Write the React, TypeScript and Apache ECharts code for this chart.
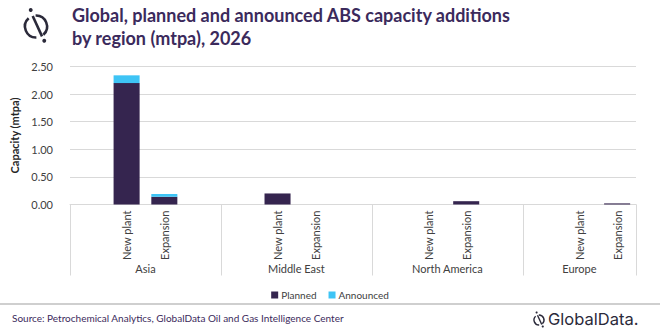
import React, { useEffect, useRef } from "react";
import * as echarts from "echarts";

const categories = ["", "New plant", "Expansion", "", "", "New plant", "Expansion", "", "", "New plant", "Expansion", "", "", "New plant", "Expansion"];
const planned = ["-", 2.2, 0.14, "-", "-", 0.2, "-", "-", "-", "-", 0.06, "-", "-", "-", 0.02];
const announced = ["-", 0.14, 0.05, "-", "-", "-", "-", "-", "-", "-", "-", "-", "-", "-", "-"];
// region labels on a half-slot scale (31 points)
const regionLabels = [
  "", "", "", "", "Asia", "", "", "", "",
  "", "", "", "Middle East", "", "", "", "",
  "", "", "", "North America", "", "", "", "",
  "", "", "Europe", "", "", "",
];
const regionBoundaries = [0, 8, 16, 24, 30];
const yTicks = { min: 0, max: 2.5, interval: 0.5 };

const PURPLE = "#35254f";
const BLUE = "#3ec4f5";
const TITLE = "#3b2a5c";
const FONT = "Lato, 'Open Sans', sans-serif";

export default function App() {
  const ref = useRef<HTMLDivElement>(null);
  useEffect(() => {
    const chart = echarts.init(ref.current!, null, { renderer: "svg" });
    const logo = (cx: number, cy: number, r: number, lw: number, color: string) => [
      { type: "arc", shape: { cx, cy, r, startAngle: (-92 * Math.PI) / 180, endAngle: (48 * Math.PI) / 180 }, style: { stroke: color, lineWidth: lw, fill: "none" } },
      { type: "arc", shape: { cx, cy, r, startAngle: (88 * Math.PI) / 180, endAngle: (228 * Math.PI) / 180 }, style: { stroke: color, lineWidth: lw, fill: "none" } },
      { type: "line", shape: { x1: cx - r * 0.3, y1: cy - r * 0.95, x2: cx + r * 0.55, y2: cy + r * 0.9 }, style: { stroke: color, lineWidth: lw } },
      { type: "circle", shape: { cx: cx - r * 0.48, cy: cy - r * 1.5, r: lw * 0.75 }, style: { fill: color } },
      { type: "circle", shape: { cx: cx + r * 0.75, cy: cy + r * 1.3, r: lw * 0.75 }, style: { fill: color } },
    ];
    chart.setOption({
      animation: false,
      backgroundColor: "#ffffff",
      title: {
        text: "Global, planned and announced ABS capacity additions\nby region (mtpa), 2026",
        left: 67,
        top: -2,
        textStyle: { fontFamily: FONT, fontSize: 18, fontWeight: "bold", color: TITLE, lineHeight: 23 },
      },
      legend: {
        bottom: 25,
        left: "center",
        itemWidth: 7,
        itemHeight: 7,
        itemGap: 12,
        icon: "rect",
        textStyle: { fontFamily: FONT, fontSize: 10, color: "#404040", padding: [0, 0, 0, -2] },
        data: ["Planned", "Announced"],
      },
      grid: { left: 70, right: 24, top: 66.5, bottom: 125.5, containLabel: false },
      xAxis: [
        {
          type: "category",
          data: categories,
          position: "bottom",
          axisLine: { lineStyle: { color: "#d9d9d9" } },
          axisTick: { show: false },
          axisLabel: { interval: 0, rotate: 90, margin: 6, fontFamily: FONT, fontSize: 11, color: "#404040" },
        },
        {
          type: "category",
          data: regionLabels,
          boundaryGap: false,
          position: "bottom",
          axisLine: { show: false },
          axisTick: {
            show: true,
            length: 71,
            interval: (i: number) => regionBoundaries.includes(i),
            lineStyle: { color: "#d9d9d9" },
          },
          axisLabel: { interval: 0, margin: 58, fontFamily: FONT, fontSize: 11, color: "#404040" },
        },
      ],
      yAxis: {
        type: "value",
        ...yTicks,
        name: "Capacity (mtpa)",
        nameLocation: "middle",
        nameGap: 45,
        nameTextStyle: { fontFamily: FONT, fontSize: 11, fontWeight: "bold", color: "#262626" },
        axisLine: { show: false },
        axisTick: { show: false },
        axisLabel: { formatter: (v: number) => v.toFixed(2), fontFamily: FONT, fontSize: 11, color: "#404040", margin: 17 },
        splitLine: { lineStyle: { color: "#d9d9d9" } },
      },
      series: [
        { name: "Planned", type: "bar", stack: "t", data: planned, barWidth: "69%", itemStyle: { color: PURPLE } },
        { name: "Announced", type: "bar", stack: "t", data: announced, barWidth: "69%", itemStyle: { color: BLUE } },
      ],
      graphic: [
        ...logo(36, 26.5, 11, 2.6, "#2b2a3a"),
        { type: "line", shape: { x1: 0, y1: 304, x2: 660, y2: 304 }, style: { stroke: "#bfbfbf", lineWidth: 1.5 } },
        {
          type: "text",
          left: 12,
          top: 313,
          style: { text: "Source: Petrochemical Analytics, GlobalData Oil and Gas Intelligence Center", fontFamily: FONT, fontSize: 10, fill: "#3b2a5c" },
        },
        ...logo(539, 320, 5, 1.4, "#2b2a3a"),
        {
          type: "text",
          left: 548,
          top: 310,
          style: { text: "GlobalData.", fontFamily: "Inter, sans-serif", fontSize: 16.5, fill: "#2b2a3a" },
        },
      ],
    });
    return () => chart.dispose();
  }, []);
  return <div ref={ref} style={{ position: "fixed", left: 0, top: 0, width: 660, height: 330 }} />;
}
